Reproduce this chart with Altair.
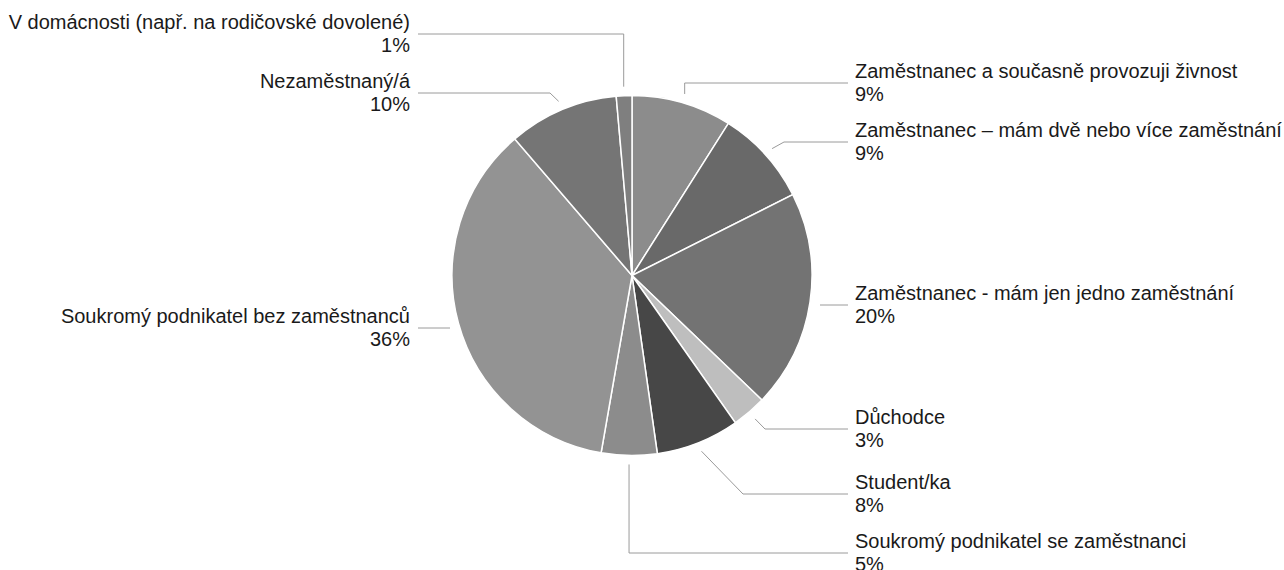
import math
import altair as alt
import pandas as pd

# ---------------- data ----------------
categories = [
    "Zaměstnanec a současně provozuji živnost",
    "Zaměstnanec – mám dvě nebo více zaměstnání",
    "Zaměstnanec - mám jen jedno zaměstnání",
    "Důchodce",
    "Student/ka",
    "Soukromý podnikatel se zaměstnanci",
    "Soukromý podnikatel bez zaměstnanců",
    "Nezaměstnaný/á",
    "V domácnosti (např. na rodičovské dovolené)",
]
values = [9.0, 8.6, 19.6, 3.1, 7.5, 5.0, 36.0, 9.9, 1.4]
pct_labels = ["9%", "9%", "20%", "3%", "8%", "5%", "36%", "10%", "1%"]

# ---------------- styles ----------------
colors = ["#8c8c8c", "#696969", "#737373", "#bebebe", "#474747",
          "#8c8c8c", "#939393", "#757575", "#7f7f7f"]

# ---------------- layout (label placement) ----------------
CX, CY, R = 632, 275.5, 180
LEAD_R = 189
FONT = "Liberation Sans"
FS = 20
# side, name baseline y, leader mode, elbow x
label_layout = [
    ("R", 78, "v", None),
    ("R", 137, "d", 784),
    ("R", 300, "h", 820),
    ("R", 424, "d", 765),
    ("R", 489, "d", 743),
    ("R", 548, "v", None),
    ("L", 323, "h", 450),
    ("L", 88, "d", 550),
    ("L", 29, "v", None),
]
TEXT_X = {"R": 855, "L": 410}
END_X = {"R": 848, "L": 418}

# ---------------- build tables ----------------
df = pd.DataFrame({"cat": categories, "val": values,
                   "order": list(range(len(categories)))})

total = sum(values)
cum = 0.0
line_rows, text_rows = [], []
for i, (cat, v, pct) in enumerate(zip(categories, values, pct_labels)):
    mid = (cum + v / 2) / total * 2 * math.pi
    cum += v
    side, base_y, mode, ex = label_layout[i]
    line_y = base_y + 5
    sx = CX + LEAD_R * math.sin(mid)
    sy = CY - LEAD_R * math.cos(mid)
    if mode == "v":
        pts = [(sx, sy), (sx, line_y), (END_X[side], line_y)]
    elif mode == "d":
        pts = [(sx, sy), (ex, line_y), (END_X[side], line_y)]
    else:
        pts = [(ex, line_y), (END_X[side], line_y)]
    for j, (px, py) in enumerate(pts):
        line_rows.append({"cat": cat, "seq": j, "px": px, "py": py})
    text_rows.append({"cat": cat, "pct": pct, "side": side,
                      "tx": TEXT_X[side], "ty": base_y})

lines_df = pd.DataFrame(line_rows)
text_df = pd.DataFrame(text_rows)

# ---------------- chart ----------------
pie = alt.Chart(df).mark_arc(radius=R, stroke="white", strokeWidth=1.5).encode(
    theta=alt.Theta("val:Q", stack=True),
    order=alt.Order("order:Q"),
    color=alt.Color("cat:N", scale=alt.Scale(domain=categories, range=colors),
                    legend=None),
    x=alt.value(CX),
    y=alt.value(CY),
)

leaders = alt.Chart(lines_df).mark_line(color="#9a9a9a", strokeWidth=1).encode(
    x=alt.X("px:Q", scale=None, axis=None),
    y=alt.Y("py:Q", scale=None, axis=None),
    detail="cat:N",
    order="seq:Q",
)


def text_layer(side, field, dy):
    align = "left" if side == "R" else "right"
    return alt.Chart(text_df).transform_filter(
        alt.datum.side == side
    ).mark_text(align=align, baseline="alphabetic", font=FONT, fontSize=FS,
                color="#1a1a1a", dy=dy).encode(
        x=alt.X("tx:Q", scale=None, axis=None),
        y=alt.Y("ty:Q", scale=None, axis=None),
        text=f"{field}:N",
    )


texts = [text_layer(s, f, d) for s in ("R", "L") for f, d in (("cat", 0), ("pct", 23))]

chart = alt.layer(pie, leaders, *texts).properties(
    width=1284, height=570, padding=0,
    autosize=alt.AutoSizeParams(type="none"),
    background="white",
).configure_view(stroke=None)

chart.save("out.html", embed_options={"renderer": "svg", "actions": False})
